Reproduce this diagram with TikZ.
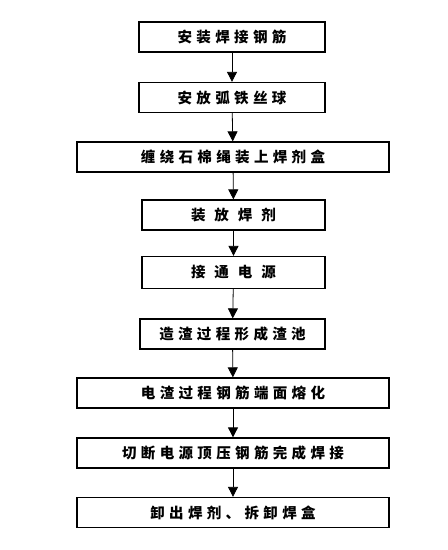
\documentclass[tikz,border=0pt]{standalone}
\usepackage{fontspec}
\newfontfamily\cjk[LetterSpace=30]{Noto Sans CJK SC}
\newfontfamily\cjkwide[LetterSpace=62]{Noto Sans CJK SC}
\usepackage{tikz}
\usetikzlibrary{arrows.meta,positioning}
\tikzstyle{arrow} = [-{Triangle[width=10pt,length=10pt]}, line width=0.8pt]
\tikzstyle{stepbox} = [draw, line width=1.3pt, minimum height=30pt, inner sep=0pt, font=\cjk\bfseries\fontsize{14.5pt}{17pt}\selectfont]

\begin{document}
\begin{tikzpicture}[x=1pt, y=-1pt]
    \useasboundingbox (0,0) rectangle (448,550);

    % Short boxes
    \node[stepbox, minimum width=186pt] (mount) at (232,37) {安装焊接钢筋};
    \node[stepbox, minimum width=186pt] (ball) at (232,97.5) {安放弧铁丝球};

    % Wide box
    \node[stepbox, minimum width=312pt] (box) at (233,157) {缠绕石棉绳装上焊剂盒};

    % Flux and power
    \node[stepbox, minimum width=183pt, font=\cjkwide\bfseries\fontsize{14.5pt}{17pt}\selectfont] (flux) at (233.5,215) {装放焊剂};
    \node[stepbox, minimum width=183pt, minimum height=32pt, font=\cjkwide\bfseries\fontsize{14.5pt}{17pt}\selectfont] (power) at (233.5,272.5) {接通电源};
    \node[stepbox, minimum width=185pt] (slag) at (232.5,334) {造渣过程形成渣池};

    % Wide boxes at the bottom
    \node[stepbox, minimum width=312pt] (melt) at (233,393) {电渣过程钢筋端面熔化};
    \node[stepbox, minimum width=312pt] (press) at (233,453) {切断电源顶压钢筋完成焊接};
    \node[stepbox, minimum width=312pt] (unload) at (233,512.5) {卸出焊剂、拆卸焊盒};

    % Arrows
    \draw[arrow] (mount) -- (ball);
    \draw[arrow] (ball) -- (box);
    \draw[arrow] (box) -- (flux);
    \draw[arrow] (flux) -- (power);
    \draw[arrow] (power) -- (slag);
    \draw[arrow] (slag) -- (melt);
    \draw[arrow] (melt) -- (press);
    \draw[arrow] (press) -- (unload);
\end{tikzpicture}
\end{document}
